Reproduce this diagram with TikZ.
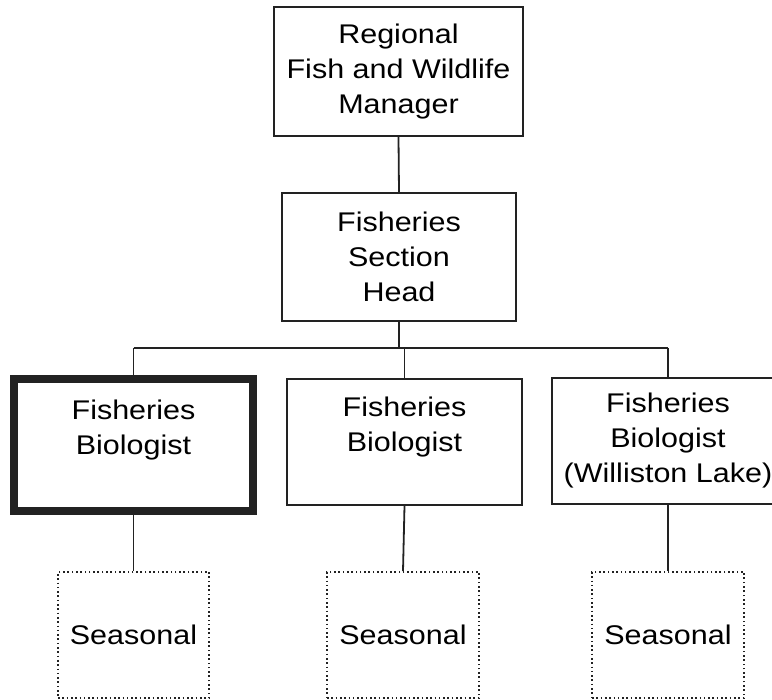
\documentclass[tikz,border=0pt]{standalone}
\usepackage{fontspec}
\setmainfont{Liberation Sans}[FakeStretch=1.13]
\usepackage{tikz}
\usetikzlibrary{positioning}
\definecolor{chartline}{HTML}{222222}

\begin{document}
\begin{tikzpicture}[x=1pt, y=-1pt,
    post/.style={draw=chartline, line width=1.8pt, align=center, inner sep=0pt,
      font=\fontsize{27}{35}\selectfont},
    ownpost/.style={post, line width=8pt},
    seasonal/.style={post, dash pattern=on 1.6pt off 2.7pt, line width=1.6pt},
    link/.style={chartline, line width=1.8pt}]
  \useasboundingbox (0,0) rectangle (772,700);

  % ── Management ──
  \node[post, minimum width=249pt, minimum height=129pt] (mgr) at (398.5, 71.5)
    {Regional\\Fish and Wildlife\\Manager};
  \node[post, minimum width=234pt, minimum height=128pt] (head) at (399, 257)
    {Fisheries\\Section\\Head};

  % ── Biologists ──
  \node[ownpost, minimum width=239pt, minimum height=132pt] (bio1) at (133.5, 445)
    {Fisheries\\Biologist\\~};
  \node[post, minimum width=235pt, minimum height=126pt] (bio2) at (404.5, 442)
    {Fisheries\\Biologist\\~};
  \node[post, minimum width=232pt, minimum height=126pt] (bio3) at (668, 441)
    {Fisheries\\Biologist\\(Williston Lake)};

  % ── Seasonal staff ──
  \node[seasonal, minimum width=151pt, minimum height=126pt] (seas1) at (133.5, 635) {Seasonal};
  \node[seasonal, minimum width=152pt, minimum height=126pt] (seas2) at (403, 635) {Seasonal};
  \node[seasonal, minimum width=152pt, minimum height=126pt] (seas3) at (668, 635) {Seasonal};

  % ── Reporting lines ──
  \coordinate (bus) at (0, 348);
  \draw[link] (mgr.south) -- (head.north);
  \draw[link] (head.south) -- (head.south |- bus);
  \draw[link] (bio1.north |- bus) -- (bio3.north |- bus);
  \foreach \i in {1,2,3} {
    \draw[link] (bio\i.north |- bus) -- (bio\i.north);
    \draw[link] (bio\i.south) -- (seas\i.north);
  }
\end{tikzpicture}
\end{document}
